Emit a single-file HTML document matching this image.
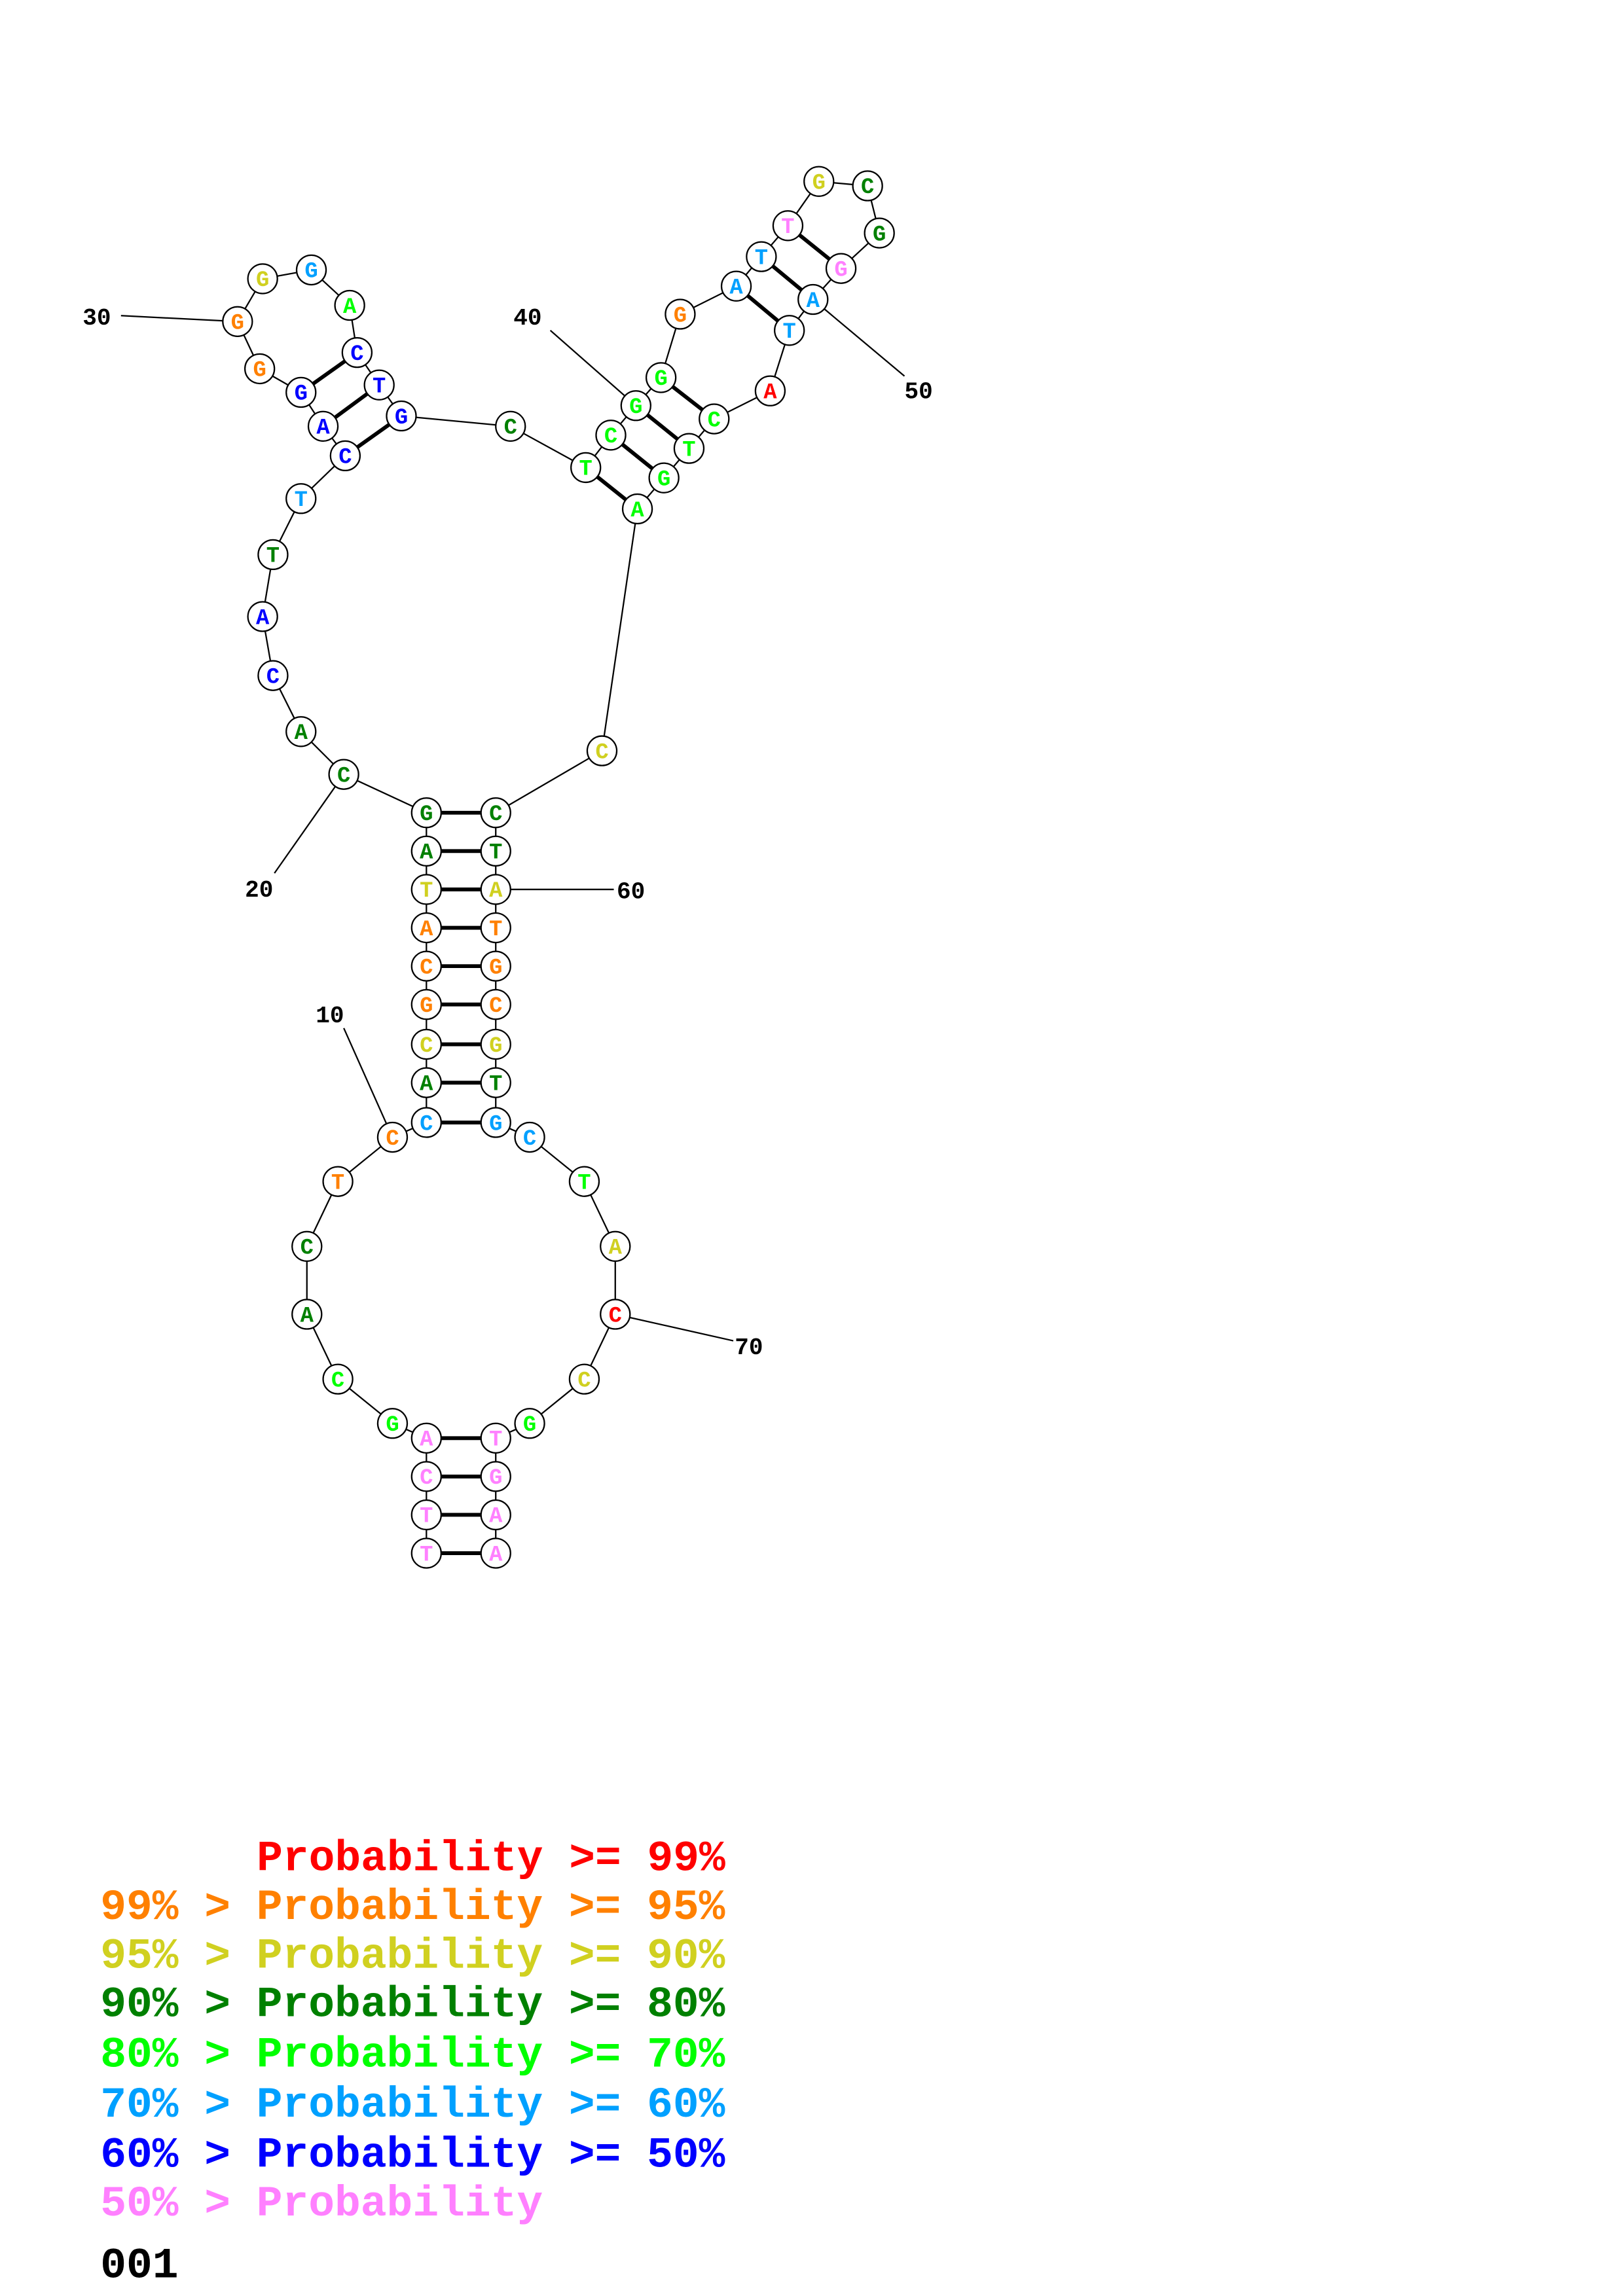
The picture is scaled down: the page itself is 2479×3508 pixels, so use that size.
<!DOCTYPE html>
<html><head><meta charset="utf-8"><style>
html,body{margin:0;padding:0;background:#fff;}
svg{display:block;}
.n{fill:#fff;stroke:#000;stroke-width:1;}
.l{font-family:"Liberation Mono",monospace;font-weight:bold;font-size:15px;text-anchor:middle;}
.num{font-family:"Liberation Mono",monospace;font-weight:bold;font-size:16px;fill:#000;}
.lg{font-family:"Liberation Mono",monospace;font-weight:bold;font-size:29.4px;}
</style></head><body>
<svg width="2479" height="3508" viewBox="0 0 1100 1556.6" xmlns="http://www.w3.org/2000/svg">
<polyline fill="none" stroke="#000" stroke-width="1" points="289,1053 289,1027 289,1001 289,975 266,965 229,935 208,891 208,845 229,801 266,771 289,761 289,734 289,708 289,681 289,655 289,629 289,603 289,577 289,551 233,525 204,496 185,458 178,418 185,376 204,338 234,309 219,289 204,266 176,250 161,218 178,189 211,183 237,207 242,239 257,261 272,282 346,289 397,317 414,295 431,275 448,256 461,213 499,194 516,174 534,153 555,123 588,126 596,158 570,182 551,203 535,224 522,265 484,284 467,304 450,324 432,345 408,509 336,551 336,577 336,603 336,629 336,655 336,681 336,708 336,734 336,761 359,771 396,801 417,845 417,891 396,935 359,965 336,975 336,1001 336,1027 336,1053"/>
<g stroke="#000" stroke-width="1">
<line x1="82" y1="214" x2="161" y2="218"/>
<line x1="373" y1="224" x2="431" y2="275"/>
<line x1="613" y1="255" x2="551" y2="203"/>
<line x1="186" y1="592" x2="233" y2="525"/>
<line x1="336" y1="603" x2="416" y2="603"/>
<line x1="233" y1="697" x2="266" y2="771"/>
<line x1="497" y1="909" x2="417" y2="891"/>
</g>
<g stroke="#000" stroke-width="2.6">
<line x1="289" y1="551" x2="336" y2="551"/><line x1="289" y1="577" x2="336" y2="577"/><line x1="289" y1="603" x2="336" y2="603"/><line x1="289" y1="629" x2="336" y2="629"/><line x1="289" y1="655" x2="336" y2="655"/><line x1="289" y1="681" x2="336" y2="681"/><line x1="289" y1="708" x2="336" y2="708"/><line x1="289" y1="734" x2="336" y2="734"/><line x1="289" y1="761" x2="336" y2="761"/>
<line x1="289" y1="975" x2="336" y2="975"/><line x1="289" y1="1001" x2="336" y2="1001"/><line x1="289" y1="1027" x2="336" y2="1027"/><line x1="289" y1="1053" x2="336" y2="1053"/>
<line x1="234" y1="309" x2="272" y2="282"/><line x1="219" y1="289" x2="257" y2="261"/><line x1="204" y1="266" x2="242" y2="239"/>
<line x1="397" y1="317" x2="432" y2="345"/><line x1="414" y1="295" x2="450" y2="324"/><line x1="431" y1="275" x2="467" y2="304"/><line x1="448" y1="256" x2="484" y2="284"/>
<line x1="499" y1="194" x2="535" y2="224"/><line x1="516" y1="174" x2="551" y2="203"/><line x1="534" y1="153" x2="570" y2="182"/>
</g>
<g class="n">
<circle cx="289" cy="1053" r="10"/><circle cx="289" cy="1027" r="10"/><circle cx="289" cy="1001" r="10"/><circle cx="289" cy="975" r="10"/><circle cx="266" cy="965" r="10"/><circle cx="229" cy="935" r="10"/><circle cx="208" cy="891" r="10"/><circle cx="208" cy="845" r="10"/><circle cx="229" cy="801" r="10"/><circle cx="266" cy="771" r="10"/>
<circle cx="289" cy="761" r="10"/><circle cx="289" cy="734" r="10"/><circle cx="289" cy="708" r="10"/><circle cx="289" cy="681" r="10"/><circle cx="289" cy="655" r="10"/><circle cx="289" cy="629" r="10"/><circle cx="289" cy="603" r="10"/><circle cx="289" cy="577" r="10"/><circle cx="289" cy="551" r="10"/>
<circle cx="233" cy="525" r="10"/><circle cx="204" cy="496" r="10"/><circle cx="185" cy="458" r="10"/><circle cx="178" cy="418" r="10"/><circle cx="185" cy="376" r="10"/><circle cx="204" cy="338" r="10"/><circle cx="234" cy="309" r="10"/><circle cx="219" cy="289" r="10"/><circle cx="204" cy="266" r="10"/><circle cx="176" cy="250" r="10"/><circle cx="161" cy="218" r="10"/><circle cx="178" cy="189" r="10"/><circle cx="211" cy="183" r="10"/><circle cx="237" cy="207" r="10"/><circle cx="242" cy="239" r="10"/><circle cx="257" cy="261" r="10"/><circle cx="272" cy="282" r="10"/>
<circle cx="346" cy="289" r="10"/><circle cx="397" cy="317" r="10"/><circle cx="414" cy="295" r="10"/><circle cx="431" cy="275" r="10"/><circle cx="448" cy="256" r="10"/><circle cx="461" cy="213" r="10"/><circle cx="499" cy="194" r="10"/><circle cx="516" cy="174" r="10"/><circle cx="534" cy="153" r="10"/><circle cx="555" cy="123" r="10"/><circle cx="588" cy="126" r="10"/><circle cx="596" cy="158" r="10"/><circle cx="570" cy="182" r="10"/><circle cx="551" cy="203" r="10"/><circle cx="535" cy="224" r="10"/><circle cx="522" cy="265" r="10"/><circle cx="484" cy="284" r="10"/><circle cx="467" cy="304" r="10"/><circle cx="450" cy="324" r="10"/><circle cx="432" cy="345" r="10"/><circle cx="408" cy="509" r="10"/>
<circle cx="336" cy="551" r="10"/><circle cx="336" cy="577" r="10"/><circle cx="336" cy="603" r="10"/><circle cx="336" cy="629" r="10"/><circle cx="336" cy="655" r="10"/><circle cx="336" cy="681" r="10"/><circle cx="336" cy="708" r="10"/><circle cx="336" cy="734" r="10"/><circle cx="336" cy="761" r="10"/>
<circle cx="359" cy="771" r="10"/><circle cx="396" cy="801" r="10"/><circle cx="417" cy="845" r="10"/><circle cx="417" cy="891" r="10"/><circle cx="396" cy="935" r="10"/><circle cx="359" cy="965" r="10"/><circle cx="336" cy="975" r="10"/><circle cx="336" cy="1001" r="10"/><circle cx="336" cy="1027" r="10"/><circle cx="336" cy="1053" r="10"/>
</g>
<g class="l">
<text x="289" y="1058" fill="#ff80ff">T</text><text x="289" y="1032" fill="#ff80ff">T</text><text x="289" y="1006" fill="#ff80ff">C</text><text x="289" y="980" fill="#ff80ff">A</text>
<text x="266" y="970" fill="#00ff00">G</text><text x="229" y="940" fill="#00ff00">C</text><text x="208" y="896" fill="#008000">A</text><text x="208" y="850" fill="#008000">C</text><text x="229" y="806" fill="#ff8000">T</text><text x="266" y="776" fill="#ff8000">C</text>
<text x="289" y="766" fill="#00a0ff">C</text><text x="289" y="739" fill="#008000">A</text><text x="289" y="713" fill="#d0d020">C</text><text x="289" y="686" fill="#ff8000">G</text><text x="289" y="660" fill="#ff8000">C</text><text x="289" y="634" fill="#ff8000">A</text><text x="289" y="608" fill="#d0d020">T</text><text x="289" y="582" fill="#008000">A</text><text x="289" y="556" fill="#008000">G</text>
<text x="233" y="530" fill="#008000">C</text><text x="204" y="501" fill="#008000">A</text><text x="185" y="463" fill="#0000ff">C</text><text x="178" y="423" fill="#0000ff">A</text><text x="185" y="381" fill="#008000">T</text><text x="204" y="343" fill="#00a0ff">T</text><text x="234" y="314" fill="#0000ff">C</text><text x="219" y="294" fill="#0000ff">A</text><text x="204" y="271" fill="#0000ff">G</text><text x="176" y="255" fill="#ff8000">G</text><text x="161" y="223" fill="#ff8000">G</text><text x="178" y="194" fill="#d0d020">G</text><text x="211" y="188" fill="#00a0ff">G</text><text x="237" y="212" fill="#00ff00">A</text><text x="242" y="244" fill="#0000ff">C</text><text x="257" y="266" fill="#0000ff">T</text><text x="272" y="287" fill="#0000ff">G</text>
<text x="346" y="294" fill="#008000">C</text><text x="397" y="322" fill="#00ff00">T</text><text x="414" y="300" fill="#00ff00">C</text><text x="431" y="280" fill="#00ff00">G</text><text x="448" y="261" fill="#00ff00">G</text><text x="461" y="218" fill="#ff8000">G</text><text x="499" y="199" fill="#00a0ff">A</text><text x="516" y="179" fill="#00a0ff">T</text><text x="534" y="158" fill="#ff80ff">T</text><text x="555" y="128" fill="#d0d020">G</text><text x="588" y="131" fill="#008000">C</text><text x="596" y="163" fill="#008000">G</text><text x="570" y="187" fill="#ff80ff">G</text><text x="551" y="208" fill="#00a0ff">A</text><text x="535" y="229" fill="#00a0ff">T</text><text x="522" y="270" fill="#ff0000">A</text><text x="484" y="289" fill="#00ff00">C</text><text x="467" y="309" fill="#00ff00">T</text><text x="450" y="329" fill="#00ff00">G</text><text x="432" y="350" fill="#00ff00">A</text><text x="408" y="514" fill="#d0d020">C</text>
<text x="336" y="556" fill="#008000">C</text><text x="336" y="582" fill="#008000">T</text><text x="336" y="608" fill="#d0d020">A</text><text x="336" y="634" fill="#ff8000">T</text><text x="336" y="660" fill="#ff8000">G</text><text x="336" y="686" fill="#ff8000">C</text><text x="336" y="713" fill="#d0d020">G</text><text x="336" y="739" fill="#008000">T</text><text x="336" y="766" fill="#00a0ff">G</text>
<text x="359" y="776" fill="#00a0ff">C</text><text x="396" y="806" fill="#00ff00">T</text><text x="417" y="850" fill="#d0d020">A</text><text x="417" y="896" fill="#ff0000">C</text><text x="396" y="940" fill="#d0d020">C</text><text x="359" y="970" fill="#00ff00">G</text><text x="336" y="980" fill="#ff80ff">T</text><text x="336" y="1006" fill="#ff80ff">G</text><text x="336" y="1032" fill="#ff80ff">A</text><text x="336" y="1058" fill="#ff80ff">A</text>
</g>
<g class="num">
<text x="56" y="220">30</text><text x="348" y="220">40</text><text x="613" y="270">50</text>
<text x="166" y="608">20</text><text x="418" y="609">60</text><text x="214" y="693">10</text><text x="498" y="918">70</text>
</g>
<g class="lg">
<text x="174" y="1268" fill="#ff0000">Probability &gt;= 99%</text>
<text x="68" y="1301" fill="#ff8000">99% &gt; Probability &gt;= 95%</text>
<text x="68" y="1334" fill="#d0d020">95% &gt; Probability &gt;= 90%</text>
<text x="68" y="1367" fill="#008000">90% &gt; Probability &gt;= 80%</text>
<text x="68" y="1401" fill="#00ff00">80% &gt; Probability &gt;= 70%</text>
<text x="68" y="1435" fill="#00a0ff">70% &gt; Probability &gt;= 60%</text>
<text x="68" y="1469" fill="#0000ff">60% &gt; Probability &gt;= 50%</text>
<text x="68" y="1502" fill="#ff80ff">50% &gt; Probability</text>
<text x="68" y="1544" fill="#000">001</text>
</g>
</svg>
</body></html>
